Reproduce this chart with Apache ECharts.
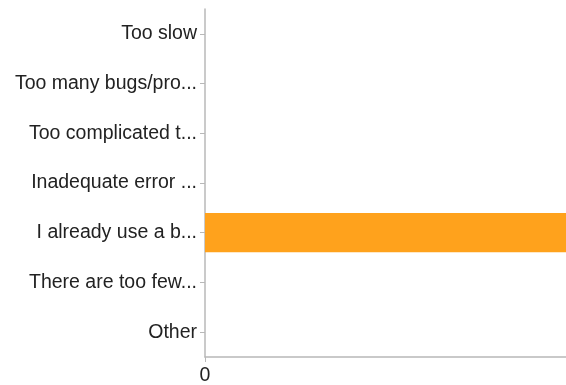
<!DOCTYPE html>
<html><head><meta charset="utf-8">
<script src="https://cdn.jsdelivr.net/npm/echarts@6/dist/echarts.min.js"></script>
<style>html,body{margin:0;padding:0;background:#fff}#c{width:566px;height:385px}</style>
</head><body><div id="c"></div>
<script>
const categories = ["Too slow","Too many bugs/pro...","Too complicated t...","Inadequate error ...","I already use a b...","There are too few...","Other"];
const values = [0,0,0,0,1,0,0];
const xTicks = [0,1];

const chart = echarts.init(document.getElementById('c'));
chart.setOption({
  animation:false,
  grid:{left:205,right:0,top:9,bottom:28,containLabel:false,outerBoundsMode:'none'},
  xAxis:{type:'value',min:xTicks[0],max:xTicks[xTicks.length-1],interval:1,
    axisLine:{show:true,lineStyle:{color:'#b8b8b8',width:1.5}},
    axisTick:{show:true,length:5,lineStyle:{color:'#b8b8b8'}},
    splitLine:{show:false},
    axisLabel:{color:'#222',fontFamily:'Liberation Sans, Arial, sans-serif',fontSize:19.5,margin:9,
      formatter:function(v){return v===xTicks[xTicks.length-1]?'{r|'+v+'}':String(v);},
      rich:{r:{color:'#222',fontFamily:'Liberation Sans, Arial, sans-serif',fontSize:19.5,padding:[0,0,0,9]}}}},
  yAxis:{type:'category',inverse:true,data:categories,
    axisLine:{show:true,lineStyle:{color:'#b8b8b8',width:1.5}},
    axisTick:{show:true,alignWithLabel:true,length:5,lineStyle:{color:'#b8b8b8'}},
    axisLabel:{color:'#222',fontFamily:'Liberation Sans, Arial, sans-serif',fontSize:19.5,margin:8,padding:[3,0,0,0]}},
  series:[{type:'bar',data:values,barCategoryGap:'21%',itemStyle:{color:'#ffa21c'}}]
});
</script></body></html>
